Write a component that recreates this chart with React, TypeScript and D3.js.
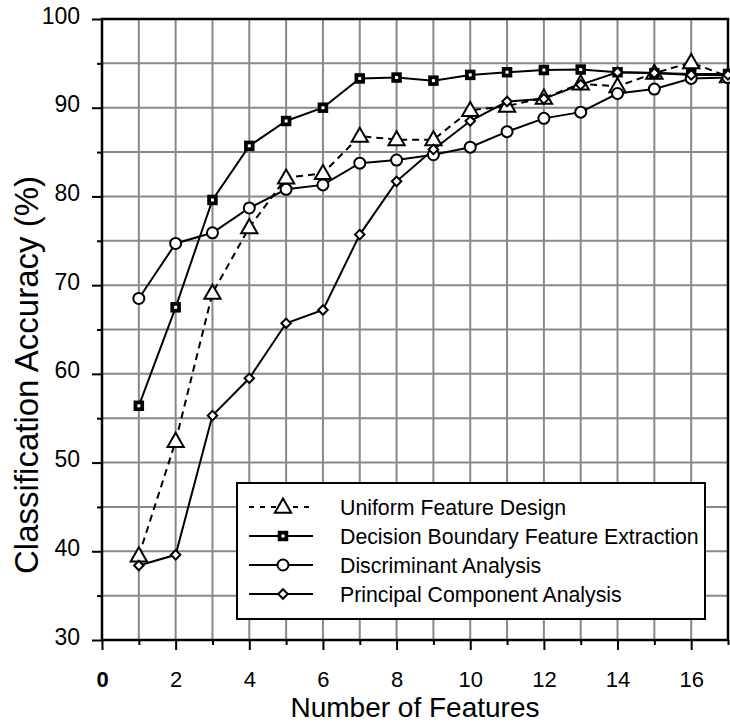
import { useEffect, useRef } from "react"
import * as d3 from "d3"

const features = [1, 2, 3, 4, 5, 6, 7, 8, 9, 10, 11, 12, 13, 14, 15, 16, 17]
const uniformDesign = [39.5, 52.4, 69.1, 76.5, 82.1, 82.6, 86.8, 86.4, 86.4, 89.7, 90.2, 91.1, 92.7, 92.4, 93.9, 95.1, 93.5]
const decisionBoundary = [56.4, 67.5, 79.6, 85.7, 88.5, 90.0, 93.3, 93.4, 93.05, 93.7, 94.0, 94.25, 94.3, 94.0, 93.9, 93.8, 93.8]
const discriminant = [68.5, 74.7, 75.9, 78.7, 80.8, 81.3, 83.75, 84.1, 84.7, 85.55, 87.3, 88.8, 89.5, 91.6, 92.1, 93.3, 93.4]
const principal = [38.4, 39.6, 55.3, 59.5, 65.7, 67.2, 75.7, 81.7, 85.3, 88.5, 90.7, 91.0, 92.6, 94.0, 93.9, 93.7, 93.7]

const seriesNames = [
    "Uniform Feature Design",
    "Decision Boundary Feature Extraction",
    "Discriminant Analysis",
    "Principal Component Analysis",
]
const seriesValues = [uniformDesign, decisionBoundary, discriminant, principal]
const seriesMarkers = ["triangle", "square", "circle", "diamond"]

const xGridValues = [0, 1, 2, 3, 4, 5, 6, 7, 8, 9, 10, 11, 12, 13, 14, 15, 16, 17]
const xLabelTicks = [0, 2, 4, 6, 8, 10, 12, 14, 16]
const xMinorTicks = [1, 3, 5, 7, 9, 11, 13, 15, 17]
const yGridValues = [35, 40, 45, 50, 55, 60, 65, 70, 75, 80, 85, 90, 95]
const yLabelTicks = [30, 40, 50, 60, 70, 80, 90, 100]
const yMinorTicks = [35, 45, 55, 65, 75, 85, 95]

const FONT = "'Liberation Sans', Arial, Helvetica, sans-serif"

function drawMarker(g: any, kind: string, cx: number, cy: number) {
    if (kind === "triangle") {
        g.append("path")
            .attr("d", d3.symbol(d3.symbolTriangle, 115)())
            .attr("transform", `translate(${cx},${cy + 1})`)
            .attr("fill", "white")
            .attr("stroke", "black")
            .attr("stroke-width", 2)
    } else if (kind === "square") {
        g.append("path")
            .attr("d", d3.symbol(d3.symbolSquare, 110)())
            .attr("transform", `translate(${cx},${cy})`)
            .attr("fill", "black")
        g.append("path")
            .attr("d", d3.symbol(d3.symbolSquare, 9)())
            .attr("transform", `translate(${cx},${cy})`)
            .attr("fill", "white")
    } else if (kind === "circle") {
        g.append("circle")
            .attr("cx", cx)
            .attr("cy", cy)
            .attr("r", 5.5)
            .attr("fill", "white")
            .attr("stroke", "black")
            .attr("stroke-width", 2)
    } else {
        g.append("path")
            .attr("d", d3.symbol(d3.symbolSquare, 45)())
            .attr("transform", `translate(${cx},${cy}) rotate(45)`)
            .attr("fill", "white")
            .attr("stroke", "black")
            .attr("stroke-width", 2)
    }
}

export default function App() {
    const svgRef = useRef<SVGSVGElement>(null)

    useEffect(() => {
        const width = 730, height = 725
        const left = 102, right = 728, top = 19, bottom = 640

        d3.select(svgRef.current).selectAll("*").remove()
        const svg = d3.select(svgRef.current)
            .attr("width", width)
            .attr("height", height)

        const x = d3.scaleLinear().domain([0, 17]).range([left, right])
        const y = d3.scaleLinear().domain([30, 100]).range([bottom, top])

        // grid
        const grid = svg.append("g")
        grid.selectAll("line.vx")
            .data(xGridValues)
            .join("line")
                .attr("x1", d => x(d))
                .attr("x2", d => x(d))
                .attr("y1", top)
                .attr("y2", bottom)
                .attr("stroke", "#888")
                .attr("stroke-width", 2)
        grid.selectAll("line.hy")
            .data(yGridValues)
            .join("line")
                .attr("x1", left)
                .attr("x2", right)
                .attr("y1", d => y(d))
                .attr("y2", d => y(d))
                .attr("stroke", "#888")
                .attr("stroke-width", 2)

        // frame
        svg.append("rect")
            .attr("x", left)
            .attr("y", top)
            .attr("width", right - left)
            .attr("height", bottom - top)
            .attr("fill", "none")
            .attr("stroke", "black")
            .attr("stroke-width", 2.5)

        // axes
        const styleAxis = (g: any) => {
            g.select(".domain").remove()
            g.selectAll(".tick line").attr("stroke", "black").attr("stroke-width", 2)
            g.selectAll(".tick text")
                .attr("fill", "black")
                .style("font-family", FONT)
        }

        svg.append("g")
            .attr("transform", `translate(${left},0)`)
            .call(d3.axisLeft(y).tickValues(yMinorTicks).tickSize(5).tickFormat(() => ""))
            .call(styleAxis)
        const yAxis = svg.append("g")
            .attr("transform", `translate(${left},0)`)
            .call(d3.axisLeft(y).tickValues(yLabelTicks).tickSize(10).tickPadding(12))
            .call(styleAxis)
        yAxis.selectAll(".tick text")
            .attr("dy", "0.18em")
            .style("font-size", "23px")

        svg.append("g")
            .attr("transform", `translate(0,${bottom})`)
            .call(d3.axisBottom(x).tickValues(xMinorTicks).tickSize(5).tickFormat(() => ""))
            .call(styleAxis)
        const xAxis = svg.append("g")
            .attr("transform", `translate(0,${bottom})`)
            .call(d3.axisBottom(x).tickValues(xLabelTicks).tickSize(10).tickPadding(21))
            .call(styleAxis)
        xAxis.selectAll(".tick text")
            .style("font-size", "22px")
            .style("font-weight", (d: any) => d === 0 ? "bold" : "normal")

        // series
        const line = d3.line<number>()
            .x((d, i) => x(features[i]))
            .y(d => y(d))

        seriesValues.forEach((values, k) => {
            svg.append("path")
                .datum(values)
                .attr("d", line)
                .attr("fill", "none")
                .attr("stroke", "black")
                .attr("stroke-width", 2)
                .attr("stroke-dasharray", k === 0 ? "7,5" : null)
        })
        seriesValues.forEach((values, k) => {
            const g = svg.append("g")
            values.forEach((v, i) => drawMarker(g, seriesMarkers[k], x(features[i]), y(v)))
        })

        // legend
        const legend = svg.append("g")
        legend.append("rect")
            .attr("x", 237)
            .attr("y", 483)
            .attr("width", 468)
            .attr("height", 136)
            .attr("fill", "white")
            .attr("stroke", "black")
            .attr("stroke-width", 2)
        seriesNames.forEach((name, k) => {
            const cy = 507 + k * 29
            legend.append("line")
                .attr("x1", 249)
                .attr("x2", 313)
                .attr("y1", cy)
                .attr("y2", cy)
                .attr("stroke", "black")
                .attr("stroke-width", 2)
                .attr("stroke-dasharray", k === 0 ? "5,6" : null)
            drawMarker(legend, seriesMarkers[k], 283, cy)
            legend.append("text")
                .attr("x", 340)
                .attr("y", cy + 7.5)
                .style("font-family", FONT)
                .style("font-size", "21.3px")
                .text(name)
        })

        // x-axis label
        svg.append("text")
            .attr("text-anchor", "middle")
            .attr("x", (left + right) / 2)
            .attr("y", 717)
            .style("font-family", FONT)
            .style("font-size", "28px")
            .text("Number of Features")

        // y-axis label
        svg.append("text")
            .attr("text-anchor", "middle")
            .attr("transform", "rotate(-90)")
            .attr("x", -375)
            .attr("y", 38)
            .style("font-family", FONT)
            .style("font-size", "33px")
            .text("Classification Accuracy (%)")
    }, [])

    return (
        <svg ref={svgRef} style={{ position: "absolute", left: 0, top: 0 }}></svg>
    )
}
